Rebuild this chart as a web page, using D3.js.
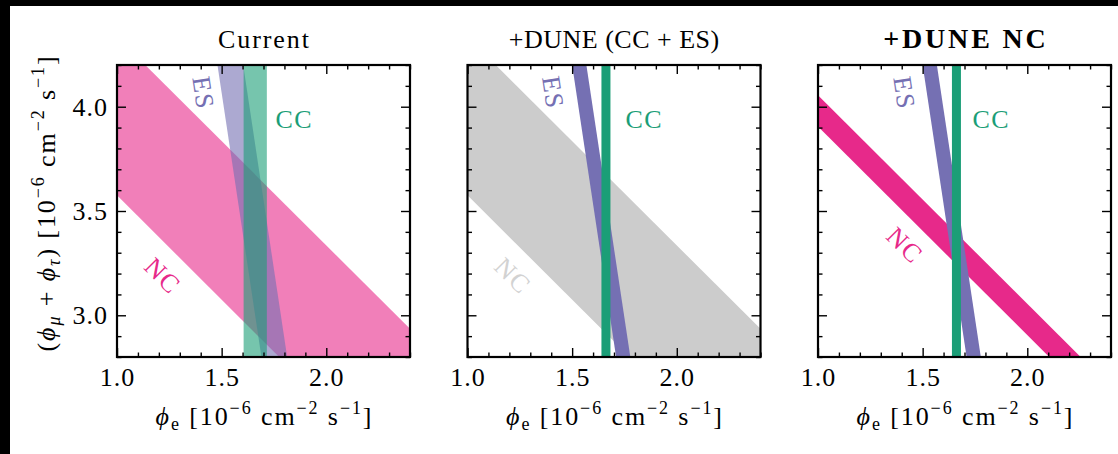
<!DOCTYPE html>
<html>
<head>
<meta charset="utf-8">
<script src="https://cdn.jsdelivr.net/npm/d3@7"></script>
<style>
  html, body { margin: 0; padding: 0; background: #fff; }
  svg { display: block; font-family: "Liberation Serif", "DejaVu Serif", serif; }
</style>
</head>
<body>
<svg id="chart" width="1118" height="454"></svg>
<script>
// Solar neutrino flux constraints: phi_e vs (phi_mu + phi_tau), in 1e-6 cm^-2 s^-1
const panelTitles = ["Current", "+DUNE (CC + ES)", "+DUNE NC"];
const xDomain = [1.0, 2.4];
const yDomain = [2.8, 4.2];
const xTickValues = [1.0, 1.5, 2.0];
const yTickValues = [3.0, 3.5, 4.0];

// CC band: bounds on phi_e
const ccBand = [[1.605, 1.716], [1.640, 1.683], [1.640, 1.683]];
// ES band: bounds on phi_e + esWeight * (phi_mu + phi_tau)
const esWeight = 0.15;
const esBand = [[2.110, 2.233], [2.130, 2.198], [2.130, 2.198]];
// NC band: bounds on phi_e + phi_mu + phi_tau
const ncBand = [[4.575, 5.335], [4.575, 5.335], [4.905, 5.055]];

const svg = d3.select("#chart");
const W = 1118, H = 454;
svg.append("rect").attr("width", W).attr("height", H).attr("fill", "#fff");
// dark strips along the top and left edge
svg.append("rect").attr("x", 0).attr("y", 0).attr("width", W).attr("height", 6).attr("fill", "#000");
svg.append("rect").attr("x", 0).attr("y", 0).attr("width", 10).attr("height", H).attr("fill", "#000");

const panelLeft = [117, 467.5, 818];
const plotTop = 65, plotW = 293, plotH = 292;
const FS = 26, SUP = 18;

const styles = [
  { nc: "#e7298a", es: "#7570b3", cc: "#1b9e77", alpha: 0.6, ncText: "#e7298a", bold: false },
  { nc: "#cccccc", es: "#7570b3", cc: "#1b9e77", alpha: 1.0, ncText: "#d2d2d2", bold: false },
  { nc: "#e7298a", es: "#7570b3", cc: "#1b9e77", alpha: 1.0, ncText: "#e7298a", bold: true }
];
const titleSpacing = [1.9, 0.5, 2.8];
const titleSize = [26, 26, 28];

const labelSpots = [
  { es: [1.414, 4.066], cc: [1.847, 3.94], nc: [1.220, 3.19] },
  { es: [1.411, 4.068], cc: [1.845, 3.94], nc: [1.218, 3.19] },
  { es: [1.414, 4.066], cc: [1.828, 3.94], nc: [1.416, 3.337] }
];

const defs = svg.append("defs");

panelTitles.forEach((title, i) => {
  const x = d3.scaleLinear().domain(xDomain).range([0, plotW]);
  const y = d3.scaleLinear().domain(yDomain).range([plotH, 0]);
  const st = styles[i];
  const g = svg.append("g").attr("transform", `translate(${panelLeft[i]},${plotTop})`);

  defs.append("clipPath").attr("id", "clip" + i)
    .append("rect").attr("width", plotW).attr("height", plotH);

  const bands = g.append("g").attr("clip-path", `url(#clip${i})`);
  const poly = pts => pts.map(p => [x(p[0]), y(p[1])].join(",")).join(" ");
  const x0 = xDomain[0] - 1, x1 = xDomain[1] + 1;
  const y0 = yDomain[0] - 1, y1 = yDomain[1] + 1;

  // NC: x + y = c
  const [nlo, nhi] = ncBand[i];
  bands.append("polygon")
    .attr("points", poly([[x0, nlo - x0], [x1, nlo - x1], [x1, nhi - x1], [x0, nhi - x0]]))
    .attr("fill", st.nc).attr("fill-opacity", st.alpha);

  // ES: x + w*y = c
  const [elo, ehi] = esBand[i];
  bands.append("polygon")
    .attr("points", poly([[elo - esWeight * y0, y0], [elo - esWeight * y1, y1],
                          [ehi - esWeight * y1, y1], [ehi - esWeight * y0, y0]]))
    .attr("fill", st.es).attr("fill-opacity", st.alpha);

  // CC: x = c
  const [clo, chi] = ccBand[i];
  bands.append("polygon")
    .attr("points", poly([[clo, y0], [clo, y1], [chi, y1], [chi, y0]]))
    .attr("fill", st.cc).attr("fill-opacity", st.alpha);

  // Band labels
  const sp = labelSpots[i];
  const esAngle = Math.atan2(y(3) - y(4), x(1 + esWeight) - x(1)) * 180 / Math.PI;
  const ncAngle = Math.atan2(y(3) - y(4), x(2) - x(1)) * 180 / Math.PI;
  const bandLabel = (pos, angle, color, str) =>
    g.append("text")
      .attr("transform", `translate(${x(pos[0])},${y(pos[1])}) rotate(${angle})`)
      .attr("text-anchor", "middle").attr("dy", "0.35em")
      .attr("font-size", FS).attr("letter-spacing", 1.5).attr("fill", color).text(str);
  bandLabel(sp.es, esAngle, st.es, "ES");
  bandLabel(sp.cc, 0, st.cc, "CC");
  bandLabel(sp.nc, ncAngle, st.ncText, "NC");

  // Ticks, pointing inward on all four sides
  const minorX = d3.range(10, 25).map(v => v / 10).filter(v => !xTickValues.some(t => Math.abs(t - v) < 1e-9));
  const minorY = d3.range(28, 43).map(v => v / 10).filter(v => !yTickValues.some(t => Math.abs(t - v) < 1e-9));
  const MAJ = 9, MIN = 4.5;

  const addAxis = (axis, tf, showLabels) => {
    const a = g.append("g").attr("transform", tf).call(axis);
    a.select(".domain").remove();
    a.selectAll("line").attr("stroke", "#000").attr("stroke-width", 1.4);
    a.selectAll("text").attr("font-size", FS).attr("fill", "#000")
      .attr("letter-spacing", 1)
      .attr("font-family", "Liberation Serif, serif");
    if (!showLabels) a.selectAll("text").remove();
    return a;
  };
  const fmt = d3.format(".1f");
  addAxis(d3.axisBottom(x).tickValues(xTickValues).tickSize(-MAJ).tickPadding(11).tickFormat(fmt), `translate(0,${plotH})`, true);
  addAxis(d3.axisBottom(x).tickValues(minorX).tickSize(-MIN).tickFormat(""), `translate(0,${plotH})`, false);
  addAxis(d3.axisTop(x).tickValues(xTickValues).tickSize(-MAJ).tickFormat(""), "translate(0,0)", false);
  addAxis(d3.axisTop(x).tickValues(minorX).tickSize(-MIN).tickFormat(""), "translate(0,0)", false);
  addAxis(d3.axisLeft(y).tickValues(yTickValues).tickSize(-MAJ).tickPadding(9).tickFormat(fmt), "translate(0,0)", i === 0);
  addAxis(d3.axisLeft(y).tickValues(minorY).tickSize(-MIN).tickFormat(""), "translate(0,0)", false);
  addAxis(d3.axisRight(y).tickValues(yTickValues).tickSize(-MAJ).tickFormat(""), `translate(${plotW},0)`, false);
  addAxis(d3.axisRight(y).tickValues(minorY).tickSize(-MIN).tickFormat(""), `translate(${plotW},0)`, false);

  // Frame
  g.append("rect").attr("width", plotW).attr("height", plotH)
    .attr("fill", "none").attr("stroke", "#000").attr("stroke-width", 2.2);

  // Title
  g.append("text").attr("x", plotW / 2 + titleSpacing[i] / 2).attr("y", 48 - plotTop)
    .attr("text-anchor", "middle").attr("font-size", titleSize[i])
    .attr("letter-spacing", titleSpacing[i])
    .attr("font-weight", st.bold ? "bold" : "normal").attr("fill", "#000")
    .text(title);

  // x-axis label: phi_e [10^-6 cm^-2 s^-1]
  const xl = g.append("text").attr("x", plotW / 2 + 1).attr("y", 425 - plotTop)
    .attr("text-anchor", "middle").attr("font-size", FS)
    .attr("letter-spacing", 1.9).attr("fill", "#000");
  unitLabel(xl, [["ϕ", "i"], ["e", "sub"]]);
});

// y-axis label: (phi_mu + phi_tau) [10^-6 cm^-2 s^-1]
const yl = svg.append("text")
  .attr("transform", `translate(55,${plotTop + plotH / 2 - 8}) rotate(-90)`)
  .attr("text-anchor", "middle").attr("font-size", FS)
  .attr("letter-spacing", 1.9).attr("fill", "#000");
unitLabel(yl, [["(", ""], ["ϕ", "i"], ["μ", "isub"], [" + ", ""], ["ϕ", "i"], ["τ", "isub"], [")", ""]]);

function unitLabel(textSel, head) {
  let shift = 0;
  const put = (str, kind) => {
    const t = textSel.append("tspan").text(str);
    let target = 0;
    if (kind === "sub" || kind === "isub") { target = 5; t.attr("font-size", SUP); }
    if (kind === "sup") { target = -11; t.attr("font-size", SUP); }
    if (kind === "i" || kind === "isub") t.attr("font-style", "italic");
    t.attr("dy", target - shift);
    shift = target;
  };
  head.forEach(([s, k]) => put(s, k));
  put(" [10", "");
  put("−6", "sup");
  put(" cm", "");
  put("−2", "sup");
  put(" s", "");
  put("−1", "sup");
  put("]", "");
}
</script>
</body>
</html>
